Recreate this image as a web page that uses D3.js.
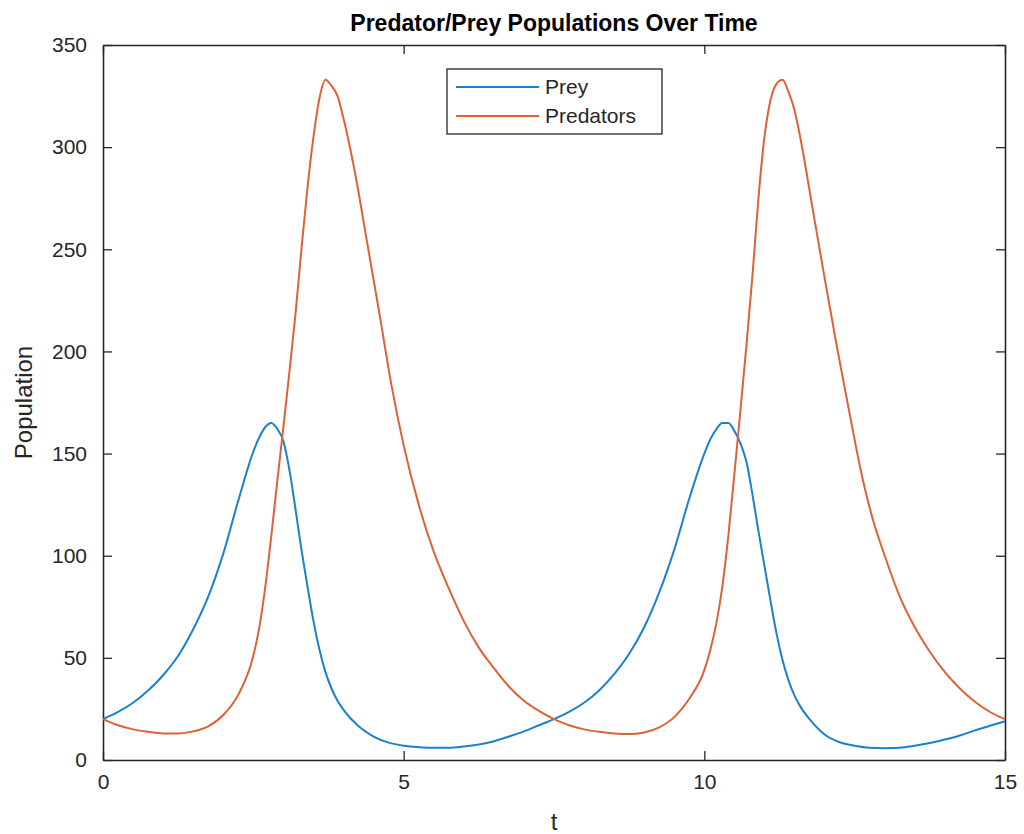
<!DOCTYPE html>
<html>
<head>
<meta charset="utf-8">
<script src="https://cdn.jsdelivr.net/npm/d3@7"></script>
<style>
  body { margin: 0; background: #fff; }
  text { font-family: "Liberation Sans", Arial, sans-serif; }
</style>
</head>
<body>
<div id="chart"></div>
<script>
// values
const preyT = [0, 0.25, 0.5, 0.75, 1, 1.25, 1.5, 1.75, 2, 2.25, 2.5, 2.6, 2.7, 2.8, 2.9, 3.0, 3.1, 3.2, 3.3, 3.4, 3.5, 3.6, 3.7, 3.8, 3.9, 4.0, 4.25, 4.5, 4.75, 5, 5.25, 5.5, 5.75, 6, 6.25, 6.5, 6.75, 7, 7.25, 7.5,
  7.75, 8, 8.25, 8.5, 8.75, 9, 9.25, 9.5, 9.75, 10, 10.1, 10.2, 10.3, 10.4, 10.5, 10.6, 10.7, 10.8, 10.9, 11, 11.1, 11.2, 11.3, 11.4, 11.5, 11.6, 11.75, 12, 12.25, 12.5, 12.75, 13, 13.25, 13.5, 13.75, 14, 14.25, 14.5, 14.75, 15];
const preyN = [20, 23.5, 28, 34, 41.5, 51, 64, 80, 101, 127, 151, 158, 163, 165, 162, 156, 142, 123, 103, 85, 68, 54, 43, 35, 29, 24.5, 16.5, 11.5, 8.5, 7, 6.3, 6, 6, 6.6, 7.6, 9.2, 11.5, 14, 17, 20,
  23.5, 28, 34, 42, 52, 65, 82, 103, 128, 150, 157, 162, 165, 165, 161, 155, 146, 130, 112, 95, 78, 62, 49, 39, 31.5, 26, 20, 12.5, 8.7, 7, 6, 5.8, 6, 7, 8.3, 10, 12, 14.5, 16.8, 19];

const predT = [0, 0.25, 0.5, 0.75, 1, 1.25, 1.5, 1.75, 2, 2.25, 2.5, 2.6, 2.7, 2.8, 2.9, 3.0, 3.1, 3.2, 3.3, 3.4, 3.5, 3.6, 3.7, 3.8, 3.9, 4.0, 4.2, 4.4, 4.6, 4.8, 5.0, 5.25, 5.5, 5.75, 6, 6.25, 6.5, 6.75, 7, 7.25, 7.5,
  7.75, 8, 8.25, 8.5, 8.75, 9, 9.25, 9.5, 9.75, 10, 10.1, 10.2, 10.3, 10.4, 10.5, 10.6, 10.7, 10.8, 10.9, 11, 11.1, 11.2, 11.3, 11.4, 11.5, 11.6, 11.8, 12, 12.2, 12.4, 12.6, 12.8, 13, 13.25, 13.5, 13.75, 14, 14.25, 14.5, 14.75, 15];
const predN = [20, 17, 15, 13.8, 13, 13, 14, 16.5, 22, 32, 51, 65, 85, 110, 137, 163, 190, 218, 250, 280, 305, 324, 333, 330, 325, 314, 286, 252, 218, 183, 154, 125, 102, 84, 68, 55, 45, 36, 29, 24, 20,
  17, 15, 13.8, 13, 12.7, 13.5, 16, 21, 30, 44, 54, 67, 85, 110, 140, 171, 203, 237, 275, 305, 323, 331, 333, 327, 318, 304, 270, 236, 203, 172, 142, 118, 100, 80, 65, 53, 43, 35, 28.5, 23.5, 20];

const xTicks = [0, 5, 10, 15];
const yTicks = [0, 50, 100, 150, 200, 250, 300, 350];
const seriesNames = ['Prey', 'Predators'];
const colors = ['#1a82cc', '#dd6234'];

const width = 1024, height = 834;
const margin = { top: 45, right: 19, bottom: 74, left: 103 };
const axisColor = '#262626';

const svg = d3.select('#chart').append('svg')
  .attr('width', width)
  .attr('height', height);

const x = d3.scaleLinear().domain([0, 15]).range([margin.left, width - margin.right]);
const y = d3.scaleLinear().domain([0, 350]).range([height - margin.bottom, margin.top]);

const tickLen = 9;

// bottom + left with labels, top + right just ticks (box)
const gx = svg.append('g')
  .attr('transform', 'translate(0,' + y(0) + ')')
  .call(d3.axisBottom(x).tickValues(xTicks).tickSizeInner(-tickLen).tickSizeOuter(0).tickPadding(14));
const gy = svg.append('g')
  .attr('transform', 'translate(' + x(0) + ',0)')
  .call(d3.axisLeft(y).tickValues(yTicks).tickSizeInner(-tickLen).tickSizeOuter(0).tickPadding(16));
const gt = svg.append('g')
  .attr('transform', 'translate(0,' + y(350) + ')')
  .call(d3.axisTop(x).tickValues(xTicks).tickSizeInner(-tickLen).tickSizeOuter(0).tickFormat(''));
const gr = svg.append('g')
  .attr('transform', 'translate(' + x(15) + ',0)')
  .call(d3.axisRight(y).tickValues(yTicks).tickSizeInner(-tickLen).tickSizeOuter(0).tickFormat(''));

[gx, gy, gt, gr].forEach(function (g) {
  g.select('.domain').attr('stroke', axisColor).attr('stroke-width', 1.6);
  g.selectAll('.tick line').attr('stroke', axisColor).attr('stroke-width', 1.3);
  g.selectAll('.tick text')
    .attr('fill', axisColor)
    .style('font-size', '21px')
    .style('font-family', '"Liberation Sans", Arial, sans-serif');
});

const line = d3.line()
  .x(function (d) { return x(d[0]); })
  .y(function (d) { return y(d[1]); })
  .curve(d3.curveMonotoneX);

const series = [
  d3.zip(preyT, preyN),
  d3.zip(predT, predN)
];

series.forEach(function (s, i) {
  svg.append('path')
    .datum(s)
    .attr('fill', 'none')
    .attr('stroke', colors[i])
    .attr('stroke-width', 2)
    .attr('stroke-linejoin', 'round')
    .attr('d', line);
});

// title + labels
svg.append('text')
  .attr('x', (x(0) + x(15)) / 2)
  .attr('y', 31)
  .attr('text-anchor', 'middle')
  .attr('fill', '#000')
  .style('font-size', '23px')
  .style('font-weight', 'bold')
  .text('Predator/Prey Populations Over Time');

svg.append('text')
  .attr('x', (x(0) + x(15)) / 2)
  .attr('y', 830)
  .attr('text-anchor', 'middle')
  .attr('fill', axisColor)
  .style('font-size', '24px')
  .text('t');

svg.append('text')
  .attr('transform', 'translate(32,' + (y(0) + y(350)) / 2 + ') rotate(-90)')
  .attr('text-anchor', 'middle')
  .attr('fill', axisColor)
  .style('font-size', '24px')
  .text('Population');

// legend
const legend = svg.append('g').attr('transform', 'translate(447,69)');
legend.append('rect')
  .attr('width', 215)
  .attr('height', 65)
  .attr('fill', '#fff')
  .attr('stroke', axisColor)
  .attr('stroke-width', 1.3);

seriesNames.forEach(function (name, i) {
  const ly = 18 + i * 29;
  legend.append('line')
    .attr('x1', 9).attr('x2', 92)
    .attr('y1', ly).attr('y2', ly)
    .attr('stroke', colors[i])
    .attr('stroke-width', 2);
  legend.append('text')
    .attr('x', 98)
    .attr('y', ly + 7)
    .attr('fill', axisColor)
    .style('font-size', '21px')
    .text(name);
});
</script>
</body>
</html>
